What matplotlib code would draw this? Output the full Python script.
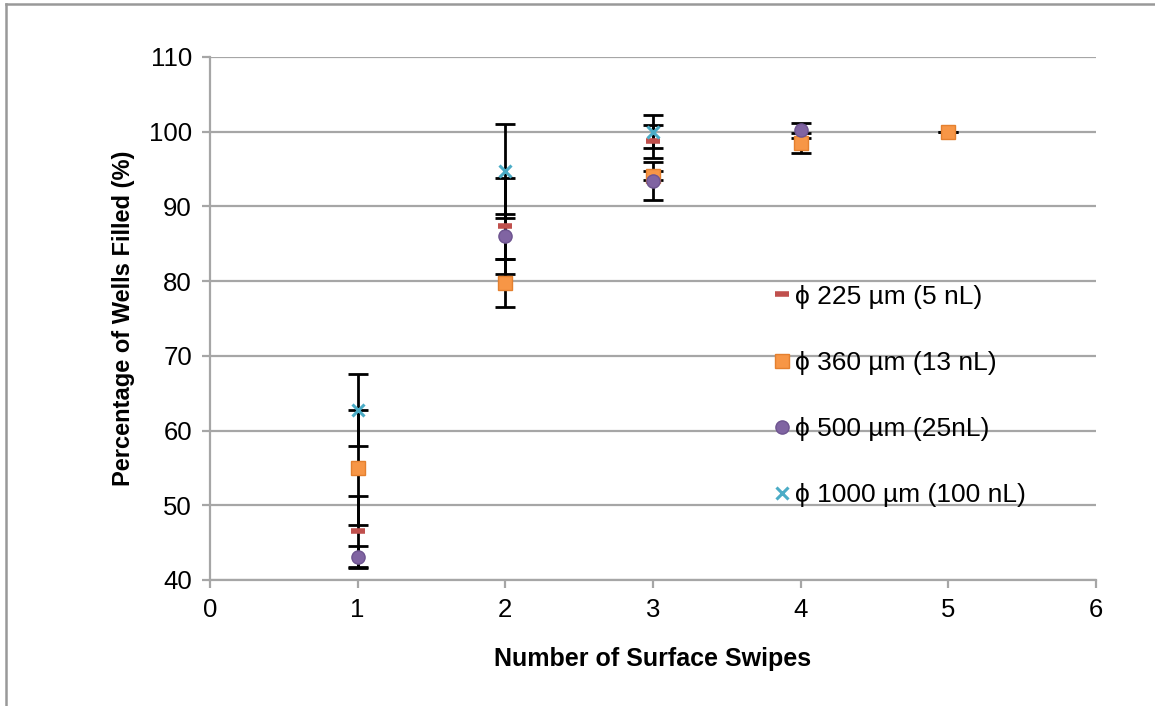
import matplotlib
matplotlib.use("Agg")
import matplotlib.pyplot as plt
from matplotlib.lines import Line2D

plt.rcParams['font.family'] = ['Liberation Sans', 'DejaVu Sans']

# --- data ---
x_225 = [1, 2, 3]
y_225 = [46.5, 87.4, 98.7]
e_225 = [4.7, 6.4, 2.2]

x_360 = [1, 2, 3, 4, 5]
y_360 = [55.0, 79.8, 94.1, 98.5, 100.0]
e_360 = [7.7, 3.2, 0.6, 1.3, 0.0]

x_500 = [1, 2, 3, 4]
y_500 = [43.1, 86.0, 93.4, 100.2]
e_500 = [1.5, 3.0, 2.5, 1.0]

x_1000 = [1, 2, 3]
y_1000 = [62.8, 94.7, 100.0]
e_1000 = [4.8, 6.3, 2.2]

labels = ['ϕ 225 µm (5 nL)', 'ϕ 360 µm (13 nL)', 'ϕ 500 µm (25nL)', 'ϕ 1000 µm (100 nL)']

fig = plt.figure(figsize=(11.55, 7.06), dpi=100)
ax = fig.add_axes([210 / 1155, 1 - 580 / 706, (1096 - 210) / 1155, (580 - 57) / 706])

grid_c = '#A6A6A6'
series = [
    (x_225, y_225, e_225, dict(marker='_', color='#C0504D', ms=10, mew=4)),
    (x_360, y_360, e_360, dict(marker='s', color='#F79646', mec='#E4802F', ms=9.5, mew=1)),
    (x_500, y_500, e_500, dict(marker='o', color='#8064A2', mec='#6E5490', ms=9.5, mew=1)),
    (x_1000, y_1000, e_1000, dict(marker='x', color='#4BACC6', ms=8, mew=2.2)),
]

# error bars first, markers on top
for xs, ys, es, st in series:
    ax.errorbar(xs, ys, yerr=es, fmt='none', ecolor='black', elinewidth=2,
                capsize=7.5, capthick=2, zorder=3)
for (xs, ys, es, st), lab in zip(series, labels):
    ax.plot(xs, ys, linestyle='none', label=lab, zorder=4, **st)

ax.set_xlim(0, 6)
ax.set_ylim(40, 110)
ax.set_xticks(range(0, 7))
ax.set_yticks(range(40, 111, 10))
ax.yaxis.grid(True, color=grid_c, linewidth=1.6)
ax.set_axisbelow(True)

for s in ['top', 'right']:
    ax.spines[s].set_visible(False)
for s in ['left', 'bottom']:
    ax.spines[s].set_color(grid_c)
    ax.spines[s].set_linewidth(1.6)
ax.tick_params(axis='both', direction='out', length=6, width=1.6, color=grid_c,
               labelsize=18.5, pad=7)

ax.set_xlabel('Number of Surface Swipes', fontsize=18, fontweight='bold', labelpad=18)
ax.set_ylabel('Percentage of Wells Filled (%)', fontsize=17, fontweight='bold', labelpad=10)

ax.legend(loc='center left', bbox_to_anchor=(0.6377, 0.352), frameon=False,
          fontsize=19, labelspacing=1.6, handlelength=0.55, handletextpad=0.2,
          borderpad=0, borderaxespad=0)

# outer frame lines (top and left) like the screenshot
fig.add_artist(Line2D([6 / 1155, 6 / 1155], [0, 1 - 4 / 706], transform=fig.transFigure,
                      color='#999999', linewidth=1.8))
fig.add_artist(Line2D([6 / 1155, 1], [1 - 4 / 706, 1 - 4 / 706], transform=fig.transFigure,
                      color='#999999', linewidth=1.8))

fig.savefig('out.png', dpi=100)
